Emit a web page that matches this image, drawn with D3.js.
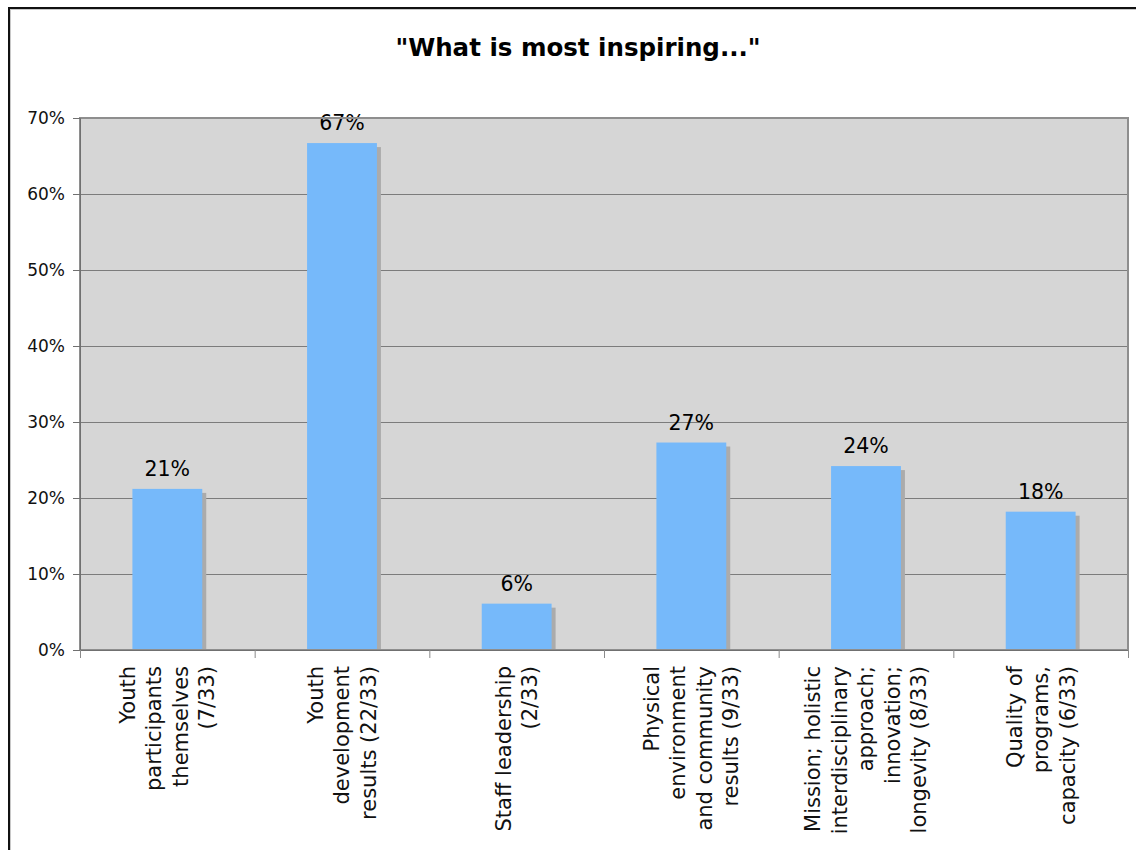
<!DOCTYPE html>
<html>
<head>
<meta charset="utf-8">
<script src="https://cdn.jsdelivr.net/npm/d3@7"></script>
<style>
  html, body { margin: 0; padding: 0; background: #fff; }
  svg { display: block; font-family: "DejaVu Sans", Verdana, sans-serif; }
</style>
</head>
<body>
<div class="osvg"></div>
<script>
// chart data
var title = '"What is most inspiring..."';
var categories = [
    ["Youth", "participants", "themselves", "(7/33)"],
    ["Youth", "development", "results (22/33)"],
    ["Staff leadership", "(2/33)"],
    ["Physical", "environment", "and community", "results (9/33)"],
    ["Mission; holistic", "interdisciplinary", "approach;", "innovation;", "longevity (8/33)"],
    ["Quality of", "programs,", "capacity (6/33)"]
];
var values = [21.2, 66.7, 6.1, 27.3, 24.2, 18.2];
var valueLabels = ["21%", "67%", "6%", "27%", "24%", "18%"];
var yTicks = [0, 10, 20, 30, 40, 50, 60, 70];

(function () {
    var W = 1136, H = 850;
    var margin = { top: 118, right: 8, bottom: 200, left: 80 };
    var width = W - margin.left - margin.right;
    var height = H - margin.top - margin.bottom;

    var svg = d3.select('.osvg').append('svg')
        .attr('width', W)
        .attr('height', H);

    // outer frame (only top and left edges visible)
    svg.append('path')
        .attr('d', 'M10,850 V9 H1136')
        .attr('fill', 'none')
        .attr('stroke', '#c8c8c8')
        .attr('stroke-width', 2);
    svg.append('path')
        .attr('d', 'M9,850 V8 H1136')
        .attr('fill', 'none')
        .attr('stroke', '#111')
        .attr('stroke-width', 2);

    svg.append('text')
        .attr('x', 578)
        .attr('y', 56)
        .attr('text-anchor', 'middle')
        .style('font-size', '24.5px')
        .style('font-weight', 'bold')
        .text(title);

    var x = d3.scaleBand()
        .domain(d3.range(categories.length))
        .range([0, width])
        .paddingInner(0.6)
        .paddingOuter(0.3);

    var xb = d3.scaleLinear()
        .domain([0, categories.length])
        .range([0, width]);

    var y = d3.scaleLinear()
        .domain([0, 70])
        .range([height, 0]);

    var g = svg.append('g')
        .attr('transform', 'translate(' + margin.left + ',' + margin.top + ')');

    g.append('rect')
        .attr('width', width)
        .attr('height', height)
        .attr('fill', '#d6d6d6');

    // gridlines
    g.append('g')
        .selectAll('line')
        .data(yTicks.slice(1))
        .enter().append('line')
        .attr('x1', 0).attr('x2', width)
        .attr('y1', function (d) { return y(d) + 0.5; })
        .attr('y2', function (d) { return y(d) + 0.5; })
        .attr('stroke', '#7c7c7c')
        .attr('stroke-width', 1);

    // shadows
    g.append('g')
        .selectAll('rect')
        .data(values)
        .enter().append('rect')
        .attr('x', function (d, i) { return x(i) + 4; })
        .attr('y', function (d) { return y(d) + 4; })
        .attr('width', x.bandwidth())
        .attr('height', function (d) { return height - y(d) - 4; })
        .attr('fill', '#ababab');

    g.append('g')
        .selectAll('rect')
        .data(values)
        .enter().append('rect')
        .attr('x', function (d, i) { return x(i); })
        .attr('y', function (d) { return y(d); })
        .attr('width', x.bandwidth())
        .attr('height', function (d) { return height - y(d); })
        .attr('fill', '#76b9fa');

    g.append('g')
        .selectAll('text')
        .data(values)
        .enter().append('text')
        .attr('x', function (d, i) { return x(i) + x.bandwidth() / 2; })
        .attr('y', function (d) { return y(d) - 13; })
        .attr('text-anchor', 'middle')
        .style('font-size', '20.5px')
        .text(function (d, i) { return valueLabels[i]; });

    // plot border
    g.append('rect')
        .attr('width', width)
        .attr('height', height)
        .attr('fill', 'none')
        .attr('stroke', '#8e8e8e')
        .attr('stroke-width', 2);

    // y axis
    var yAxis = g.append('g')
        .call(d3.axisLeft(y).tickValues(yTicks).tickSize(7).tickFormat(function (d) { return d + '%'; }));
    yAxis.select('.domain').attr('stroke', '#707070');
    yAxis.selectAll('.tick line').attr('stroke', '#707070');
    yAxis.selectAll('.tick text')
        .attr('x', -15)
        .attr('fill', '#111')
        .style('font-size', '17px')
        .style('font-family', '"DejaVu Sans", Verdana, sans-serif');

    // x axis baseline and ticks at category boundaries
    var xAxis = g.append('g')
        .attr('transform', 'translate(0,' + height + ')')
        .call(d3.axisBottom(xb).ticks(categories.length).tickSize(8).tickFormat(''));
    xAxis.select('.domain').attr('stroke', '#707070');
    xAxis.selectAll('.tick line').attr('stroke', '#8a8a8a');

    // rotated multi-line category labels
    var lineH = 26.5;
    var labels = g.append('g')
        .selectAll('text')
        .data(categories)
        .enter().append('text')
        .attr('transform', function (d, i) {
            return 'translate(' + (x(i) + x.bandwidth() / 2) + ',' + (height + 16) + ') rotate(-90)';
        })
        .attr('text-anchor', 'end')
        .style('font-size', '21px')
        .attr('fill', '#111');

    labels.each(function (lines) {
        var t = d3.select(this);
        lines.forEach(function (s, k) {
            t.append('tspan')
                .attr('x', 0)
                .attr('y', (k - (lines.length - 1) / 2) * lineH)
                .attr('dy', '0.35em')
                .text(s);
        });
    });
})();
</script>
</body>
</html>
